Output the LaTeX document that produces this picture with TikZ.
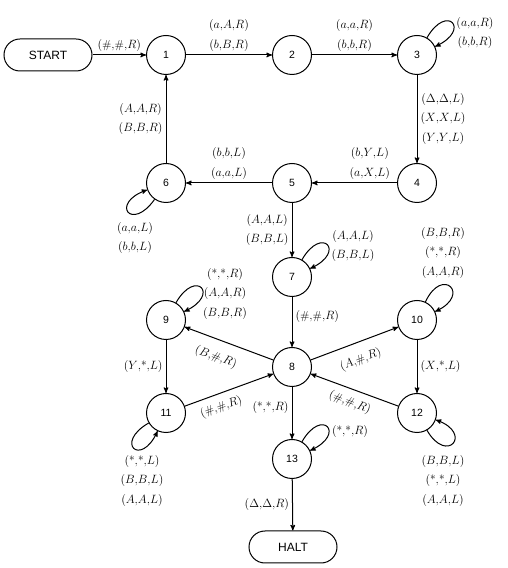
\documentclass[tikz,border=0pt]{standalone}
\usepackage{amsmath}
\usepackage{fontspec}
\setsansfont{Liberation Sans}
\usepackage{tikz}
\usetikzlibrary{positioning,arrows}
\newcommand{\tstar}{\mbox{*}}
\newcommand{\mv}[3]{$(#1{,}#2{,}#3)$}
\newcommand{\labfont}{\fontsize{11.5}{19.5}\selectfont}

\begin{document}
\begin{tikzpicture}[
    x=1pt, y=1pt, >=stealth',
    state/.style={circle,draw,line width=1pt,minimum size=39pt,inner sep=0pt,font={\sffamily\fontsize{10.5}{12}\selectfont}},
    term/.style={rectangle,rounded corners=16pt,draw,line width=1pt,minimum width=88pt,minimum height=32pt,font={\sffamily\fontsize{12}{14}\selectfont}},
    move/.style={->,line width=1pt},
    self/.style={move,distance=40pt},
    lab/.style={font=\labfont,align=center,inner sep=3pt},
]
    \useasboundingbox (0,0) rectangle (507,568);

    \node[term]  (start) at ( 48,513) {START};
    \node[state] (n1)    at (166,513) {1};
    \node[state] (n2)    at (292,513) {2};
    \node[state] (n3)    at (417,513) {3};
    \node[state] (n4)    at (417,385) {4};
    \node[state] (n5)    at (292,385) {5};
    \node[state] (n6)    at (166,385) {6};
    \node[state] (n7)    at (292,291) {7};
    \node[state] (n8)    at (292,201) {8};
    \node[state] (n9)    at (166,248) {9};
    \node[state] (n10)   at (417,248) {10};
    \node[state] (n11)   at (166,155) {11};
    \node[state] (n12)   at (417,155) {12};
    \node[state] (n13)   at (292,109) {13};
    \node[term]  (halt)  at (293, 21) {HALT};

    \draw[move] (start) -- (n1) node[lab,midway,above] (l01) {\mv{\#}{\#}{R}};
    \draw[move] (n1) -- (n2) node[lab,midway,above] (l12) {\mv{a}{A}{R}\\\mv{b}{B}{R}};
    \draw[move] (n2) -- (n3) node[lab,midway,above] (l23) {\mv{a}{a}{R}\\\mv{b}{b}{R}};
    \draw[move] (n3) -- (n4) node[lab,midway,right] (l34) {\mv{\Delta}{\Delta}{L}\\\mv{X}{X}{L}\\\mv{Y}{Y}{L}};
    \draw[move] (n4) -- (n5) node[lab,pos=0.32,above] (l45) {\mv{b}{Y}{L}\\\mv{a}{X}{L}};
    \draw[move] (n5) -- (n6) node[lab,midway,above] (l56) {\mv{b}{b}{L}\\\mv{a}{a}{L}};
    \draw[move] (n6) -- (n1) node[lab,midway,left] (l61) {\mv{A}{A}{R}\\\mv{B}{B}{R}};
    \draw[move] (n5) -- (n7) node[lab,midway,left] (l57) {\mv{A}{A}{L}\\\mv{B}{B}{L}};
    \draw[move] (n7) -- (n8) node[lab,pos=0.4,right] (l78) {\mv{\#}{\#}{R}};
    \draw[move] (n8) -- (n9) node[lab,pos=0.58,sloped,below=8pt] (l89) {\mv{B}{\#}{R}};
    \draw[move] (n8) -- (n10) node[lab,midway,sloped,below=8pt] (l810) {\mv{A}{\#}{R}};
    \draw[move] (n9) -- (n11) node[lab,midway,left] (l911) {\mv{Y}{\tstar}{L}};
    \draw[move] (n10) -- (n12) node[lab,midway,right] (l1012) {\mv{X}{\tstar}{L}};
    \draw[move] (n11) -- (n8) node[lab,pos=0.36,sloped,below=4pt] (l118) {\mv{\#}{\#}{R}};
    \draw[move] (n12) -- (n8) node[lab,midway,sloped,below=4pt] (l128) {\mv{\#}{\#}{R}};
    \draw[move] (n8) -- (n13) node[lab,pos=0.4,left] (l813) {\mv{\tstar}{\tstar}{R}};
    \draw[move] (n13) -- (halt) node[lab,midway,left] (l13h) {\mv{\Delta}{\Delta}{R}};

    % self loops
    \draw[self] (n3)  to[out=60,in=25]   (n3);
    \draw[self] (n6)  to[out=235,in=200] (n6);
    \draw[self] (n7)  to[out=60,in=25]   (n7);
    \draw[self] (n9)  to[out=60,in=25]   (n9);
    \draw[self] (n10) to[out=65,in=25]   (n10);
    \draw[self] (n11) to[out=210,in=245] (n11);
    \draw[self] (n12) to[out=300,in=340] (n12);
    \draw[self] (n13) to[out=60,in=25]   (n13);

    \node[lab] (t3)  at (475,535) {\mv{a}{a}{R}\\\mv{b}{b}{R}};
    \node[lab] (t6)  at (135,330) {\mv{a}{a}{L}\\\mv{b}{b}{L}};
    \node[lab] (t7)  at (353,322) {\mv{A}{A}{L}\\\mv{B}{B}{L}};
    \node[lab] (t9)  at (225,274) {\mv{\tstar}{\tstar}{R}\\\mv{A}{A}{R}\\\mv{B}{B}{R}};
    \node[lab] (t10) at (443,315) {\mv{B}{B}{R}\\\mv{\tstar}{\tstar}{R}\\\mv{A}{A}{R}};
    \node[lab] (t11) at (142, 87) {\mv{\tstar}{\tstar}{L}\\\mv{B}{B}{L}\\\mv{A}{A}{L}};
    \node[lab] (t12) at (443, 87) {\mv{B}{B}{L}\\\mv{\tstar}{\tstar}{L}\\\mv{A}{A}{L}};
    \node[lab] (t13) at (350,136) {\mv{\tstar}{\tstar}{R}};
\end{tikzpicture}
\end{document}
